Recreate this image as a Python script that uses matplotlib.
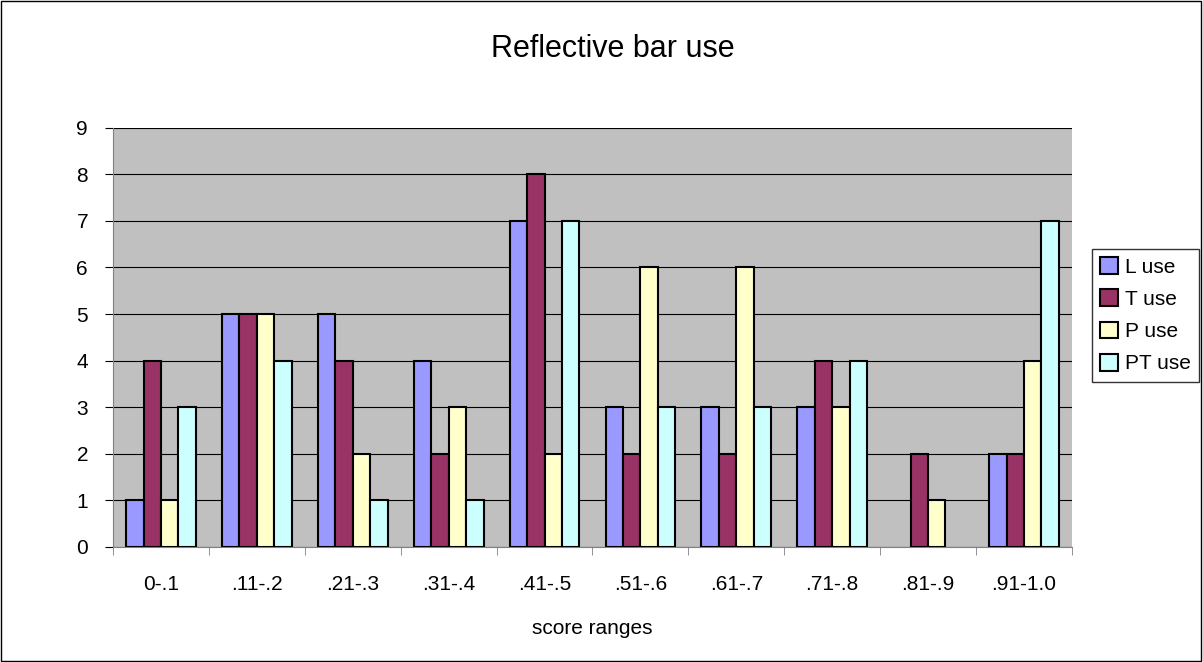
import numpy as np
import matplotlib.pyplot as plt
from matplotlib.patches import Rectangle

plt.rcParams["font.family"] = ["Liberation Sans", "DejaVu Sans"]

categories = ["0-.1", ".11-.2", ".21-.3", ".31-.4", ".41-.5",
              ".51-.6", ".61-.7", ".71-.8", ".81-.9", ".91-1.0"]
series_names = ["L use", "T use", "P use", "PT use"]
l_use = [1, 5, 5, 4, 7, 3, 3, 3, 0, 2]
t_use = [4, 5, 4, 2, 8, 2, 2, 4, 2, 2]
p_use = [1, 5, 2, 3, 2, 6, 6, 3, 1, 4]
pt_use = [3, 4, 1, 1, 7, 3, 3, 4, 0, 7]
colors = ["#9999FF", "#993366", "#FFFFCC", "#CCFFFF"]

fig = plt.figure(figsize=(12.03, 6.62), dpi=100)
ax = fig.add_axes([0.094, 0.174, 0.797, 0.633])
ax.set_facecolor("#C0C0C0")

x = np.arange(len(categories))
width = 1 / 5.5
for i, (vals, name, col) in enumerate(zip([l_use, t_use, p_use, pt_use], series_names, colors)):
    pos = x + (i - 1.5) * width
    # zero-height bars get no outline, like the original
    edges = ["black" if v > 0 else "none" for v in vals]
    ax.bar(pos, vals, width=width, color=col, edgecolor=edges,
           linewidth=1.5, label=name, zorder=3)

ax.set_xlim(-0.5, len(categories) - 0.5)
ax.set_ylim(0, 9)
ax.set_yticks(range(10))
ax.yaxis.grid(True, color="black", linewidth=0.8, zorder=1)
ax.set_axisbelow(True)

ax.set_xticks(x)
ax.set_xticklabels(categories, fontsize=15)
ax.set_xticks(np.arange(-0.5, len(categories)), minor=True)
ax.tick_params(axis="x", which="major", length=0, pad=20)
ax.tick_params(axis="x", which="minor", length=6, color="#808080", direction="out")
ax.tick_params(axis="y", length=6, color="black", labelsize=15, pad=12)

for side in ["top", "right"]:
    ax.spines[side].set_visible(False)
ax.spines["left"].set_color("#808080")
ax.spines["bottom"].set_color("#808080")

ax.set_xlabel("score ranges", fontsize=15, labelpad=18)
fig.text(0.509, 0.926, "Reflective bar use", ha="center", va="center", fontsize=22)

leg = fig.legend(loc="upper left", bbox_to_anchor=(0.9077, 0.624),
                 fontsize=15, frameon=True, fancybox=False, edgecolor="black",
                 handlelength=0.87, handleheight=0.87, handletextpad=0.3,
                 labelspacing=0.6, borderpad=0.4, borderaxespad=0)
leg.get_frame().set_linewidth(1)
for h in leg.legend_handles:
    h.set_edgecolor("black")

fig.patches.append(Rectangle((0.0005, 0.001), 0.998, 0.997, transform=fig.transFigure,
                             fill=False, edgecolor="black", linewidth=1))

fig.savefig("out.png", dpi=100)
